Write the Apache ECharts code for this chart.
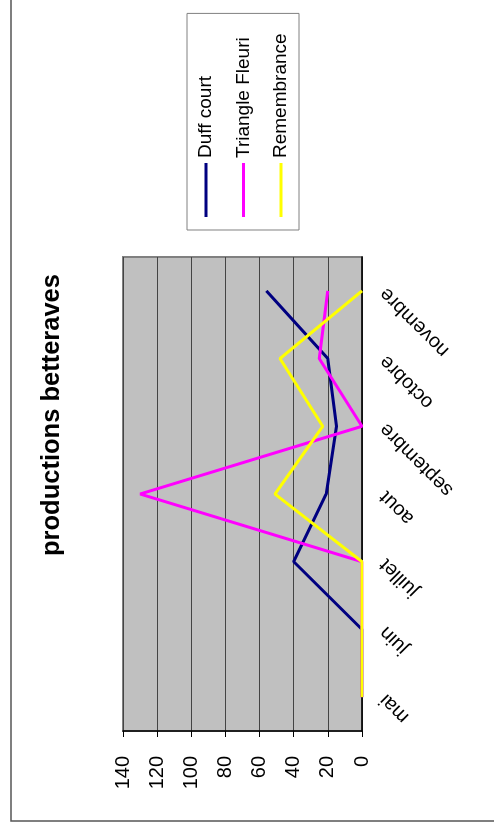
<!DOCTYPE html>
<html>
<head>
<meta charset="utf-8">
<script src="https://cdn.jsdelivr.net/npm/echarts@6/dist/echarts.min.js"></script>
<style>
html, body { margin: 0; padding: 0; width: 494px; height: 831px; overflow: hidden; background: #fff; }
#chart { position: absolute; left: 0; top: 0; width: 831px; height: 494px;
  transform-origin: 0 0; transform: translateY(831px) rotate(-90deg); }
</style>
</head>
<body>
<div id="chart"></div>
<script>
const titleText = 'productions betteraves';
const categories = ['mai', 'juin', 'juillet', 'aout', 'septembre', 'octobre', 'novembre'];
const duffCourt = [0, 0, 40, 21, 15, 20, 56];
const triangleFleuri = [0, 0, 0, 130, 0, 25, 20];
const remembrance = [0, 0, 0, 51, 23, 48, 0];
const valueTicks = { min: 0, max: 140, interval: 20 };

const font = 'Liberation Sans, Arial, sans-serif';
const chart = echarts.init(document.getElementById('chart'));
chart.setOption({
  animation: false,
  backgroundColor: '#ffffff',
  title: {
    text: titleText,
    left: 275, top: 37, padding: 0,
    textStyle: { fontFamily: font, fontSize: 25.5, fontWeight: 'bold', color: '#000', lineHeight: 30 }
  },
  graphic: [{
    type: 'rect', silent: true, z: -1,
    shape: { x: 10, y: 11, width: 1000, height: 1000 },
    style: { fill: 'none', stroke: '#555', lineWidth: 1.5 }
  }],
  legend: {
    orient: 'vertical', left: 601, top: 187,
    padding: [9, 20, 8, 13],
    icon: 'rect',
    itemWidth: 54, itemHeight: 3, itemGap: 17.5,
    backgroundColor: '#fff', borderColor: '#808080', borderWidth: 1,
    textStyle: { fontFamily: font, fontSize: 19, color: '#000', lineHeight: 20 },
    data: ['Duff court', 'Triangle Fleuri', 'Remembrance']
  },
  grid: {
    left: 100, top: 123, width: 474, height: 239,
    show: true, backgroundColor: '#c0c0c0', borderColor: '#808080', borderWidth: 2
  },
  xAxis: {
    type: 'category', data: categories, boundaryGap: true,
    axisLine: { lineStyle: { color: '#000', width: 1.5 } },
    axisTick: { length: 6, lineStyle: { color: '#000' } },
    axisLabel: { rotate: 45, margin: 21, fontFamily: font, fontSize: 20, color: '#000' }
  },
  yAxis: {
    type: 'value', min: valueTicks.min, max: valueTicks.max, interval: valueTicks.interval,
    axisLine: { show: true, lineStyle: { color: '#000', width: 1.5 } },
    axisTick: { show: true, length: 6, lineStyle: { color: '#000' } },
    axisLabel: { margin: 25, fontFamily: font, fontSize: 20, color: '#000' },
    splitLine: { lineStyle: { color: '#444', width: 1 } }
  },
  series: [
    { name: 'Duff court', type: 'line', data: duffCourt, symbol: 'none', color: '#000080', lineStyle: { width: 3, color: '#000080' } },
    { name: 'Triangle Fleuri', type: 'line', data: triangleFleuri, symbol: 'none', color: '#ff00ff', lineStyle: { width: 3, color: '#ff00ff' } },
    { name: 'Remembrance', type: 'line', data: remembrance, symbol: 'none', color: '#ffff00', lineStyle: { width: 3, color: '#ffff00' } }
  ]
});
</script>
</body>
</html>
